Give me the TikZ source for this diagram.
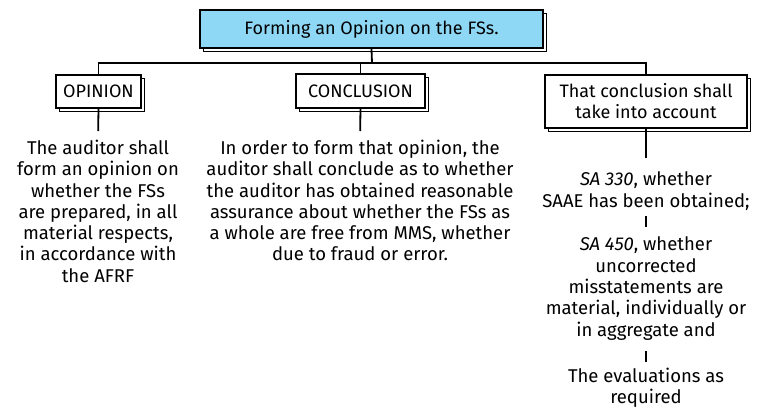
\documentclass[tikz,border=0pt]{standalone}
\usepackage{fontspec}
\setmainfont{Fira Sans}
\usetikzlibrary{shadows}
\definecolor{titleblue}{RGB}{142,216,246}
\tikzset{
  sh/.style={general shadow={draw=black, fill=white, line width=1.4pt, shadow xshift=3.5pt, shadow yshift=-3.5pt}},
  boxlabel/.style={draw=black, fill=white, line width=1.8pt, sh, inner sep=0pt, align=center,
     font=\fontsize{18}{21}\selectfont},
  txt/.style={align=center, inner sep=0pt, outer sep=0pt, font=\fontsize{18.5}{21.3}\selectfont},
  conn/.style={line width=1.8pt},
}
\begin{document}
\begin{tikzpicture}[x=1pt,y=1pt]
\useasboundingbox (0,0) rectangle (762,408);
% title
\node[boxlabel, fill=titleblue, line width=2.2pt, minimum width=343pt, minimum height=38pt] (title) at (371.5,379) {Forming an Opinion on the FSs.};
% heading boxes
\node[boxlabel, minimum width=85pt, minimum height=33pt] (opbox) at (98.5,316.5) {OPINION};
\node[boxlabel, minimum width=129pt, minimum height=34pt] (conbox) at (360.5,317) {CONCLUSION};
\node[boxlabel, minimum width=202pt, minimum height=53pt] (acbox) at (646,306.5) {That conclusion shall\\take into account};
% connectors from title
\coordinate (hub) at (372,345);
\draw[conn] (title.south) -- (hub);
\draw[conn] (hub) -| (opbox.north);
\draw[conn] (hub) -| (acbox.north);
\draw[conn] (conbox.north) -- (conbox.north |- hub);
% texts
\node[txt, anchor=north] (optext) at (98,268) {The auditor shall\\form an opinion on\\whether the FSs\\are prepared, in all\\material respects,\\in accordance with\\the AFRF};
\node[txt, anchor=north] (context) at (360,268) {In order to form that opinion, the\\auditor shall conclude as to whether\\the auditor has obtained reasonable\\assurance about whether the FSs as\\a whole are free from MMS, whether\\due to fraud or error.};
\node[txt, anchor=north] (r1) at (646,236) {\itshape SA 330\upshape, whether\\SAAE has been obtained;};
\node[txt, anchor=north] (r2) at (646,171) {\itshape SA 450\upshape, whether\\uncorrected\\misstatements are\\material, individually or\\in aggregate and};
\node[txt, anchor=north] (r3) at (646,40) {The evaluations as\\required};
\draw[conn, shorten >=9pt] (opbox.south) -- (optext.north);
\draw[conn, shorten >=9pt] (conbox.south) -- (context.north);
\draw[conn, shorten >=14pt] (acbox.south) -- (r1.north);
\draw[conn, shorten <=6pt, shorten >=10pt] (r1.south) -- (r2.north);
\draw[conn, shorten <=11pt, shorten >=6pt] (r2.south) -- (r3.north);
\end{tikzpicture}
\end{document}
